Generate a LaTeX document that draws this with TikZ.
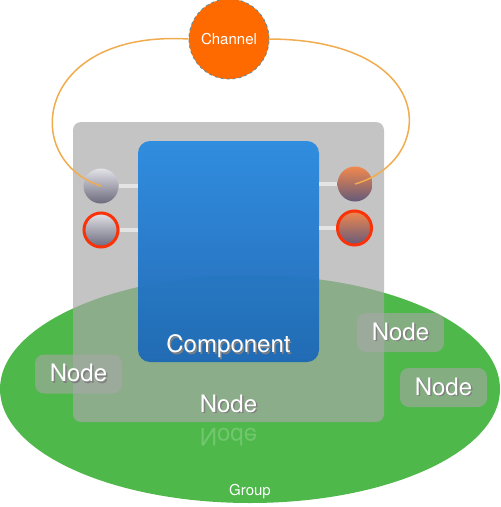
\documentclass[tikz,border=0pt]{standalone}
\usepackage{fontspec}
\setmainfont{TeX Gyre Heros}
\usetikzlibrary{positioning,calc}

\definecolor{grpgreen}{RGB}{78,184,74}
\definecolor{boxgray}{RGB}{168,168,168}
\definecolor{compblue}{RGB}{42,138,224}
\definecolor{compbluedk}{RGB}{28,104,182}
\definecolor{chorange}{RGB}{255,106,0}
\definecolor{chborder}{RGB}{110,140,150}
\definecolor{wire}{RGB}{240,172,78}
\definecolor{ringred}{RGB}{250,50,10}
\definecolor{stub}{RGB}{228,228,228}

\newcommand{\shtext}[1]{\makebox[0pt][l]{\hspace{1.5pt}\raisebox{-1.5pt}{\color{black!50}#1}}{\color{white}#1}}
\newcommand{\refltext}[1]{\scalebox{1}[-1]{#1}}

\tikzset{
  bigfont/.style={font=\fontsize{24}{28}\selectfont},
  nodebox/.style={rounded corners=9pt, fill=boxgray, fill opacity=0.68, text opacity=1, inner sep=0pt},
  smallbox/.style={nodebox, fill opacity=0.6, minimum width=87pt, minimum height=39pt, bigfont},
  refl/.style={text=white, text opacity=0.2, bigfont, inner sep=0pt},
  inport/.style={circle, inner sep=0pt, minimum size=35pt, top color={rgb,255:red,226;green,226;blue,232}, bottom color={rgb,255:red,108;green,106;blue,124}},
  outport/.style={inport, top color={rgb,255:red,242;green,136;blue,78}, bottom color={rgb,255:red,100;green,90;blue,122}},
  ringed/.style={draw=ringred, line width=3pt, minimum size=34pt},
  stubline/.style={draw=stub, line width=4pt},
  chanwire/.style={draw=wire, line width=1.5pt}
}

\begin{document}
\begin{tikzpicture}[x=1pt,y=-1pt]
  \useasboundingbox (0,0) rectangle (501,507);

  % group
  \fill[grpgreen] (250,389) ellipse [x radius=250, y radius=114];
  \node[text=white, font=\fontsize{15}{17}\selectfont] (grp) at (250,492) {Group};

  % outer node
  \node[nodebox, rounded corners=8pt, minimum width=311pt, minimum height=300pt] (main) at (228.5,272) {};
  \node[bigfont, inner sep=0pt] (mainlbl) at ($(main.south)+(0,-18)$) {\shtext{Node}};
  \node[refl] (mainrefl) at ($(main.south)+(0,15)$) {\refltext{Node}};

  % ports
  \node[inport] (pl1) at (101,186) {};
  \node[inport, ringed] (pl2) at (101,230) {};
  \node[outport] (pr1) at (355,184) {};
  \node[outport, ringed] (pr2) at (354.5,228) {};

  % component
  \node[rounded corners=12pt, top color=compblue, bottom color=compbluedk, fill opacity=0.95, minimum width=181pt, minimum height=221pt, inner sep=0pt] (comp) at (228.5,251.5) {};
  \node[bigfont, inner sep=0pt] (complbl) at ($(comp.south)+(0,-15)$) {\shtext{Component}};

  \draw[stubline] (pl1.east) -- (pl1.east -| comp.west);
  \draw[stubline] (pl2.east) -- (pl2.east -| comp.west);
  \draw[stubline] (pr1.west) -- (pr1.west -| comp.east);
  \draw[stubline] (pr2.west) -- (pr2.west -| comp.east);

  % channel
  \node[circle, fill=chorange, draw=chborder, dashed, line width=1pt, minimum size=80pt, inner sep=0pt, text=white, font=\fontsize{15}{17}\selectfont] (chan) at (229,39) {Channel};
  \draw[chanwire] (pl1.center) .. controls (20,160) and (34,30) .. (chan.west);
  \draw[chanwire] (chan.east) .. controls (438,40) and (438,160) .. (pr1.center);

  % inner nodes
  \node[smallbox] (n1) at (78.5,374) {\shtext{Node}};
  \node[smallbox] (n2) at (400.5,332.5) {\shtext{Node}};
  \node[smallbox] (n3) at (443.5,387.5) {\shtext{Node}};
\end{tikzpicture}
\end{document}
